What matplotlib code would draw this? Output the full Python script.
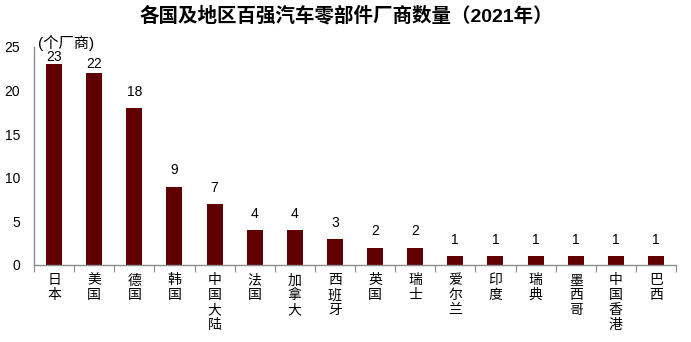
import matplotlib
matplotlib.use("Agg")
import matplotlib.pyplot as plt

plt.rcParams['font.family'] = ['Liberation Sans', 'Noto Sans CJK SC', 'DejaVu Sans']

regions = ["日本", "美国", "德国", "韩国", "中国大陆", "法国", "加拿大", "西班牙",
           "英国", "瑞士", "爱尔兰", "印度", "瑞典", "墨西哥", "中国香港", "巴西"]
counts = [23, 22, 18, 9, 7, 4, 4, 3, 2, 2, 1, 1, 1, 1, 1, 1]
y_ticks = [0, 5, 10, 15, 20, 25]
title = "各国及地区百强汽车零部件厂商数量（2021年）"
unit = "(个厂商)"

bar_color = "#600000"
axis_color = "#8c8c8c"

fig = plt.figure(figsize=(6.91, 3.42), dpi=100)
ax = fig.add_axes([34 / 691, 1 - 265 / 342, (676 - 34) / 691, (265 - 47) / 342])

x = list(range(len(regions)))
ax.bar(x, counts, width=0.4, color=bar_color, zorder=2)

ax.set_xlim(-0.5, len(regions) - 0.5)
ax.set_ylim(0, 25)
ax.set_yticks(y_ticks)
ax.set_yticklabels([str(t) for t in y_ticks], fontsize=10)
ax.tick_params(axis='y', length=0, pad=10)

# category ticks sit between bars, labels stacked vertically one glyph per line
ax.set_xticks([i - 0.5 for i in range(len(regions) + 1)], minor=False)
ax.set_xticklabels([])
ax.tick_params(axis='x', which='major', length=5, color=axis_color, direction='out')
ax.set_xticks(x, minor=True)
ax.set_xticklabels(["\n".join(r) for r in regions], minor=True, fontsize=10,
                   linespacing=1.08, va='top')
ax.tick_params(axis='x', which='minor', length=0, pad=6)

for s in ['top', 'right']:
    ax.spines[s].set_visible(False)
for s in ['left', 'bottom']:
    ax.spines[s].set_color(axis_color)
    ax.spines[s].set_linewidth(1)

# value labels; the two tallest are tucked under the top of the plot area
for xi, v in zip(x, counts):
    ypos = v + 1.85
    if v >= 22:
        ypos = min(ypos, v + (0.85 if v == 23 else 1.05))
    ax.text(xi, ypos, str(v), ha='center', va='center', fontsize=10)

ax.text(-0.41, 25.45, unit, ha='left', va='center', fontsize=11, clip_on=False)

fig.text(346 / 691, 1 - 16 / 342, title, ha='center', va='center',
         fontsize=14, fontweight='bold')

fig.savefig("out.png", dpi=100)
